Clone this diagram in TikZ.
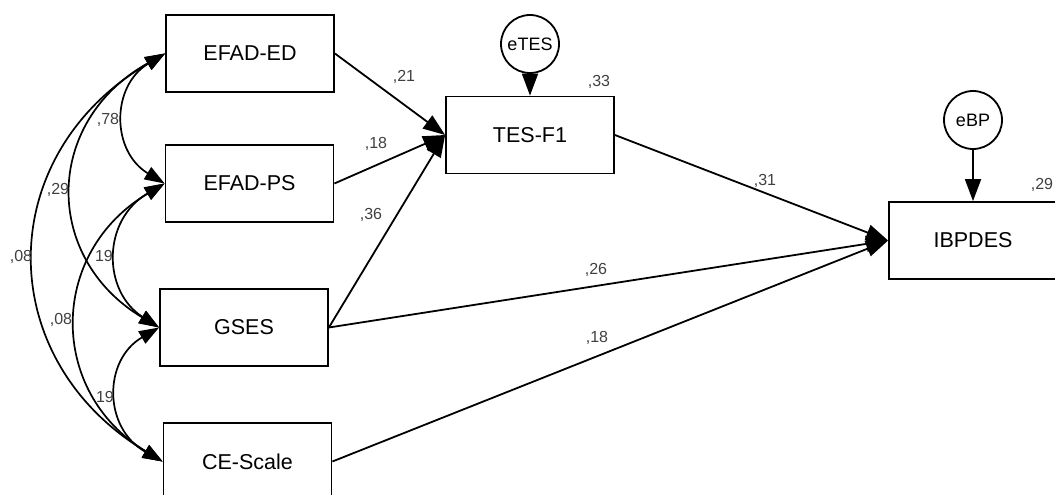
\documentclass[tikz,border=0pt]{standalone}
\usepackage{fontspec}
\setmainfont{Liberation Sans}
\usetikzlibrary{arrows.meta}

\begin{document}
\begin{tikzpicture}[x=1pt,y=-1pt,
  var/.style={draw, line width=1.8pt, minimum width=168pt, minimum height=77pt,
              font=\fontsize{21.5}{24}\selectfont, inner sep=0pt},
  err/.style={draw, circle, line width=1.8pt, minimum size=58pt,
              font=\fontsize{18}{20}\selectfont, inner sep=0pt},
  reg/.style={line width=1.8pt, -{Triangle[length=22pt,width=16pt]}},
  cov/.style={line width=1.7pt,
              {Triangle[length=20pt,width=14pt]}-{Triangle[length=20pt,width=14pt]}},
  coef/.style={font=\fontsize{16}{18}\selectfont, text=black!75, inner sep=0pt},
]
\useasboundingbox (0,0) rectangle (1055,495);
\clip (0,0) rectangle (1055,495);

% observed variables
\node[var] (ed)   at (250,53.5)  {EFAD-ED};
\node[var] (ps)   at (249.5,183.5) {EFAD-PS};
\node[var] (gses) at (244,327.5) {GSES};
\node[var] (ce)   at (247.5,461.5) {CE-Scale};
\node[var] (tes)  at (530,135)   {TES-F1};
\node[var] (ibp)  at (973,240.5) {IBPDES};

% residuals
\node[err] (etes) at (530,44)  {eTES};
\node[err] (ebp)  at (973,120) {eBP};

% regression paths
\draw[reg] (ed.east)   -- (tes.west);
\draw[reg] (ps.east)   -- (tes.west);
\draw[reg] (gses.east) -- (tes.west);
\draw[reg] (tes.east)  -- (ibp.west);
\draw[reg] (gses.east) -- (ibp.west);
\draw[reg] (ce.east)   -- (ibp.west);
\draw[reg] (etes.south) -- (tes.north);
\draw[reg] (ebp.south)  -- (ibp.north);

% covariances among the exogenous variables
\draw[cov] (ed.west)   .. controls (111,86)  and (111,151) .. (ps.west);
\draw[cov] (ed.west)   .. controls (43,122)  and (43,258)  .. (gses.west);
\draw[cov] (ed.west)   .. controls (-8,155)  and (-8,359)  .. (ce.west);
\draw[cov] (ps.west)   .. controls (102,220) and (102,291) .. (gses.west);
\draw[cov] (ps.west)   .. controls (48,253)  and (48,392)  .. (ce.west);
\draw[cov] (gses.west) .. controls (103,360) and (103,428) .. (ce.west);

% coefficients
\node[coef] at (404,77)   {,21};
\node[coef] at (376,144)  {,18};
\node[coef] at (371,215)  {,36};
\node[coef] at (599,82)   {,33};
\node[coef] at (765,181)  {,31};
\node[coef] at (1042,185) {,29};
\node[coef] at (596,270)  {,26};
\node[coef] at (597,338)  {,18};
\node[coef] at (108,120)  {,78};
\node[coef] at (58,190)   {,29};
\node[coef] at (21,257)   {,08};
\node[coef] at (104,256)  {19};
\node[coef] at (61,320)   {,08};
\node[coef] at (105,397)  {19};
\end{tikzpicture}
\end{document}
